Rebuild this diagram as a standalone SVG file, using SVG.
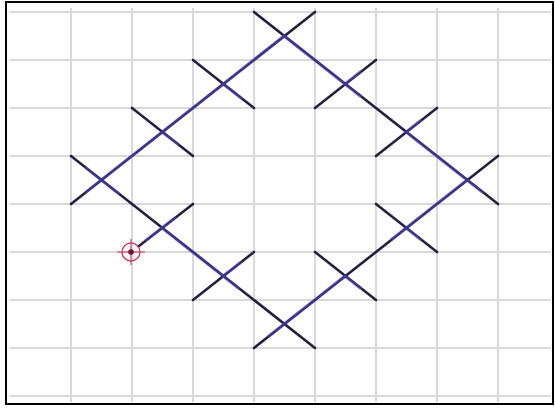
<svg xmlns="http://www.w3.org/2000/svg" width="555" height="410" viewBox="0 0 555 410">
<style>
.grid line{stroke:#d9d9d9;stroke-width:2}
.st{stroke:#22223f;stroke-width:2.6;stroke-linecap:round;fill:none}
.hl{stroke:#5b4de0;stroke-width:3.4;stroke-linecap:round;opacity:0.45;fill:none}
</style>
<rect x="0" y="0" width="555" height="410" fill="#ffffff"/>
<g id="grid" class="grid">
<line x1="71" y1="8" x2="71" y2="402"/>
<line x1="132" y1="8" x2="132" y2="402"/>
<line x1="193" y1="8" x2="193" y2="402"/>
<line x1="254" y1="8" x2="254" y2="402"/>
<line x1="315" y1="8" x2="315" y2="402"/>
<line x1="376" y1="8" x2="376" y2="402"/>
<line x1="437" y1="8" x2="437" y2="402"/>
<line x1="498" y1="8" x2="498" y2="402"/>
<line x1="10" y1="12" x2="551" y2="12"/>
<line x1="10" y1="60" x2="551" y2="60"/>
<line x1="10" y1="108" x2="551" y2="108"/>
<line x1="10" y1="156" x2="551" y2="156"/>
<line x1="10" y1="204" x2="551" y2="204"/>
<line x1="10" y1="252" x2="551" y2="252"/>
<line x1="10" y1="300" x2="551" y2="300"/>
<line x1="10" y1="348" x2="551" y2="348"/>
<line x1="10" y1="396" x2="551" y2="396"/>
</g>
<g id="connectors">
<line class="st" x1="71" y1="204" x2="315" y2="12"/>
<line class="st" x1="71" y1="156" x2="315" y2="348"/>
<line class="st" x1="254" y1="12" x2="498" y2="204"/>
<line class="st" x1="254" y1="348" x2="498" y2="156"/>
<line class="st" x1="193" y1="60" x2="254" y2="108"/>
<line class="st" x1="132" y1="108" x2="193" y2="156"/>
<line class="st" x1="193" y1="204" x2="139" y2="246"/>
<line class="st" x1="254" y1="252" x2="193" y2="300"/>
<line class="st" x1="376" y1="60" x2="315" y2="108"/>
<line class="st" x1="437" y1="108" x2="376" y2="156"/>
<line class="st" x1="376" y1="204" x2="437" y2="252"/>
<line class="st" x1="315" y1="252" x2="376" y2="300"/>
<path class="hl" d="M86 192 L284 36 L299 48 M223 84 L241 98 M162 132 L178 144 M86 168 L118 193 M162 228 L238 288 M284 324 L299 312 M146 240 L175 218 M223 276 L240 263 M284 36 L360 96 M345 84 L360 72 M406 132 L482 192 M406 132 L420 121 M467 180 L392 239 M406 228 L420 239 M345 276 L269 336 M345 276 L360 288"/>
</g>
<g id="cross-marker">
<circle cx="131" cy="252" r="9" fill="none" stroke="#d4385a" stroke-width="1.4"/>
<line x1="117" y1="252" x2="145" y2="252" stroke="#c8506a" stroke-width="1.2"/>
<line x1="131" y1="239" x2="131" y2="265" stroke="#c8506a" stroke-width="1.2"/>
<circle cx="131" cy="252" r="2.8" fill="#7a1030"/>
</g>
<rect x="6" y="2" width="547" height="402" fill="none" stroke="#000" stroke-width="2"/>
</svg>
